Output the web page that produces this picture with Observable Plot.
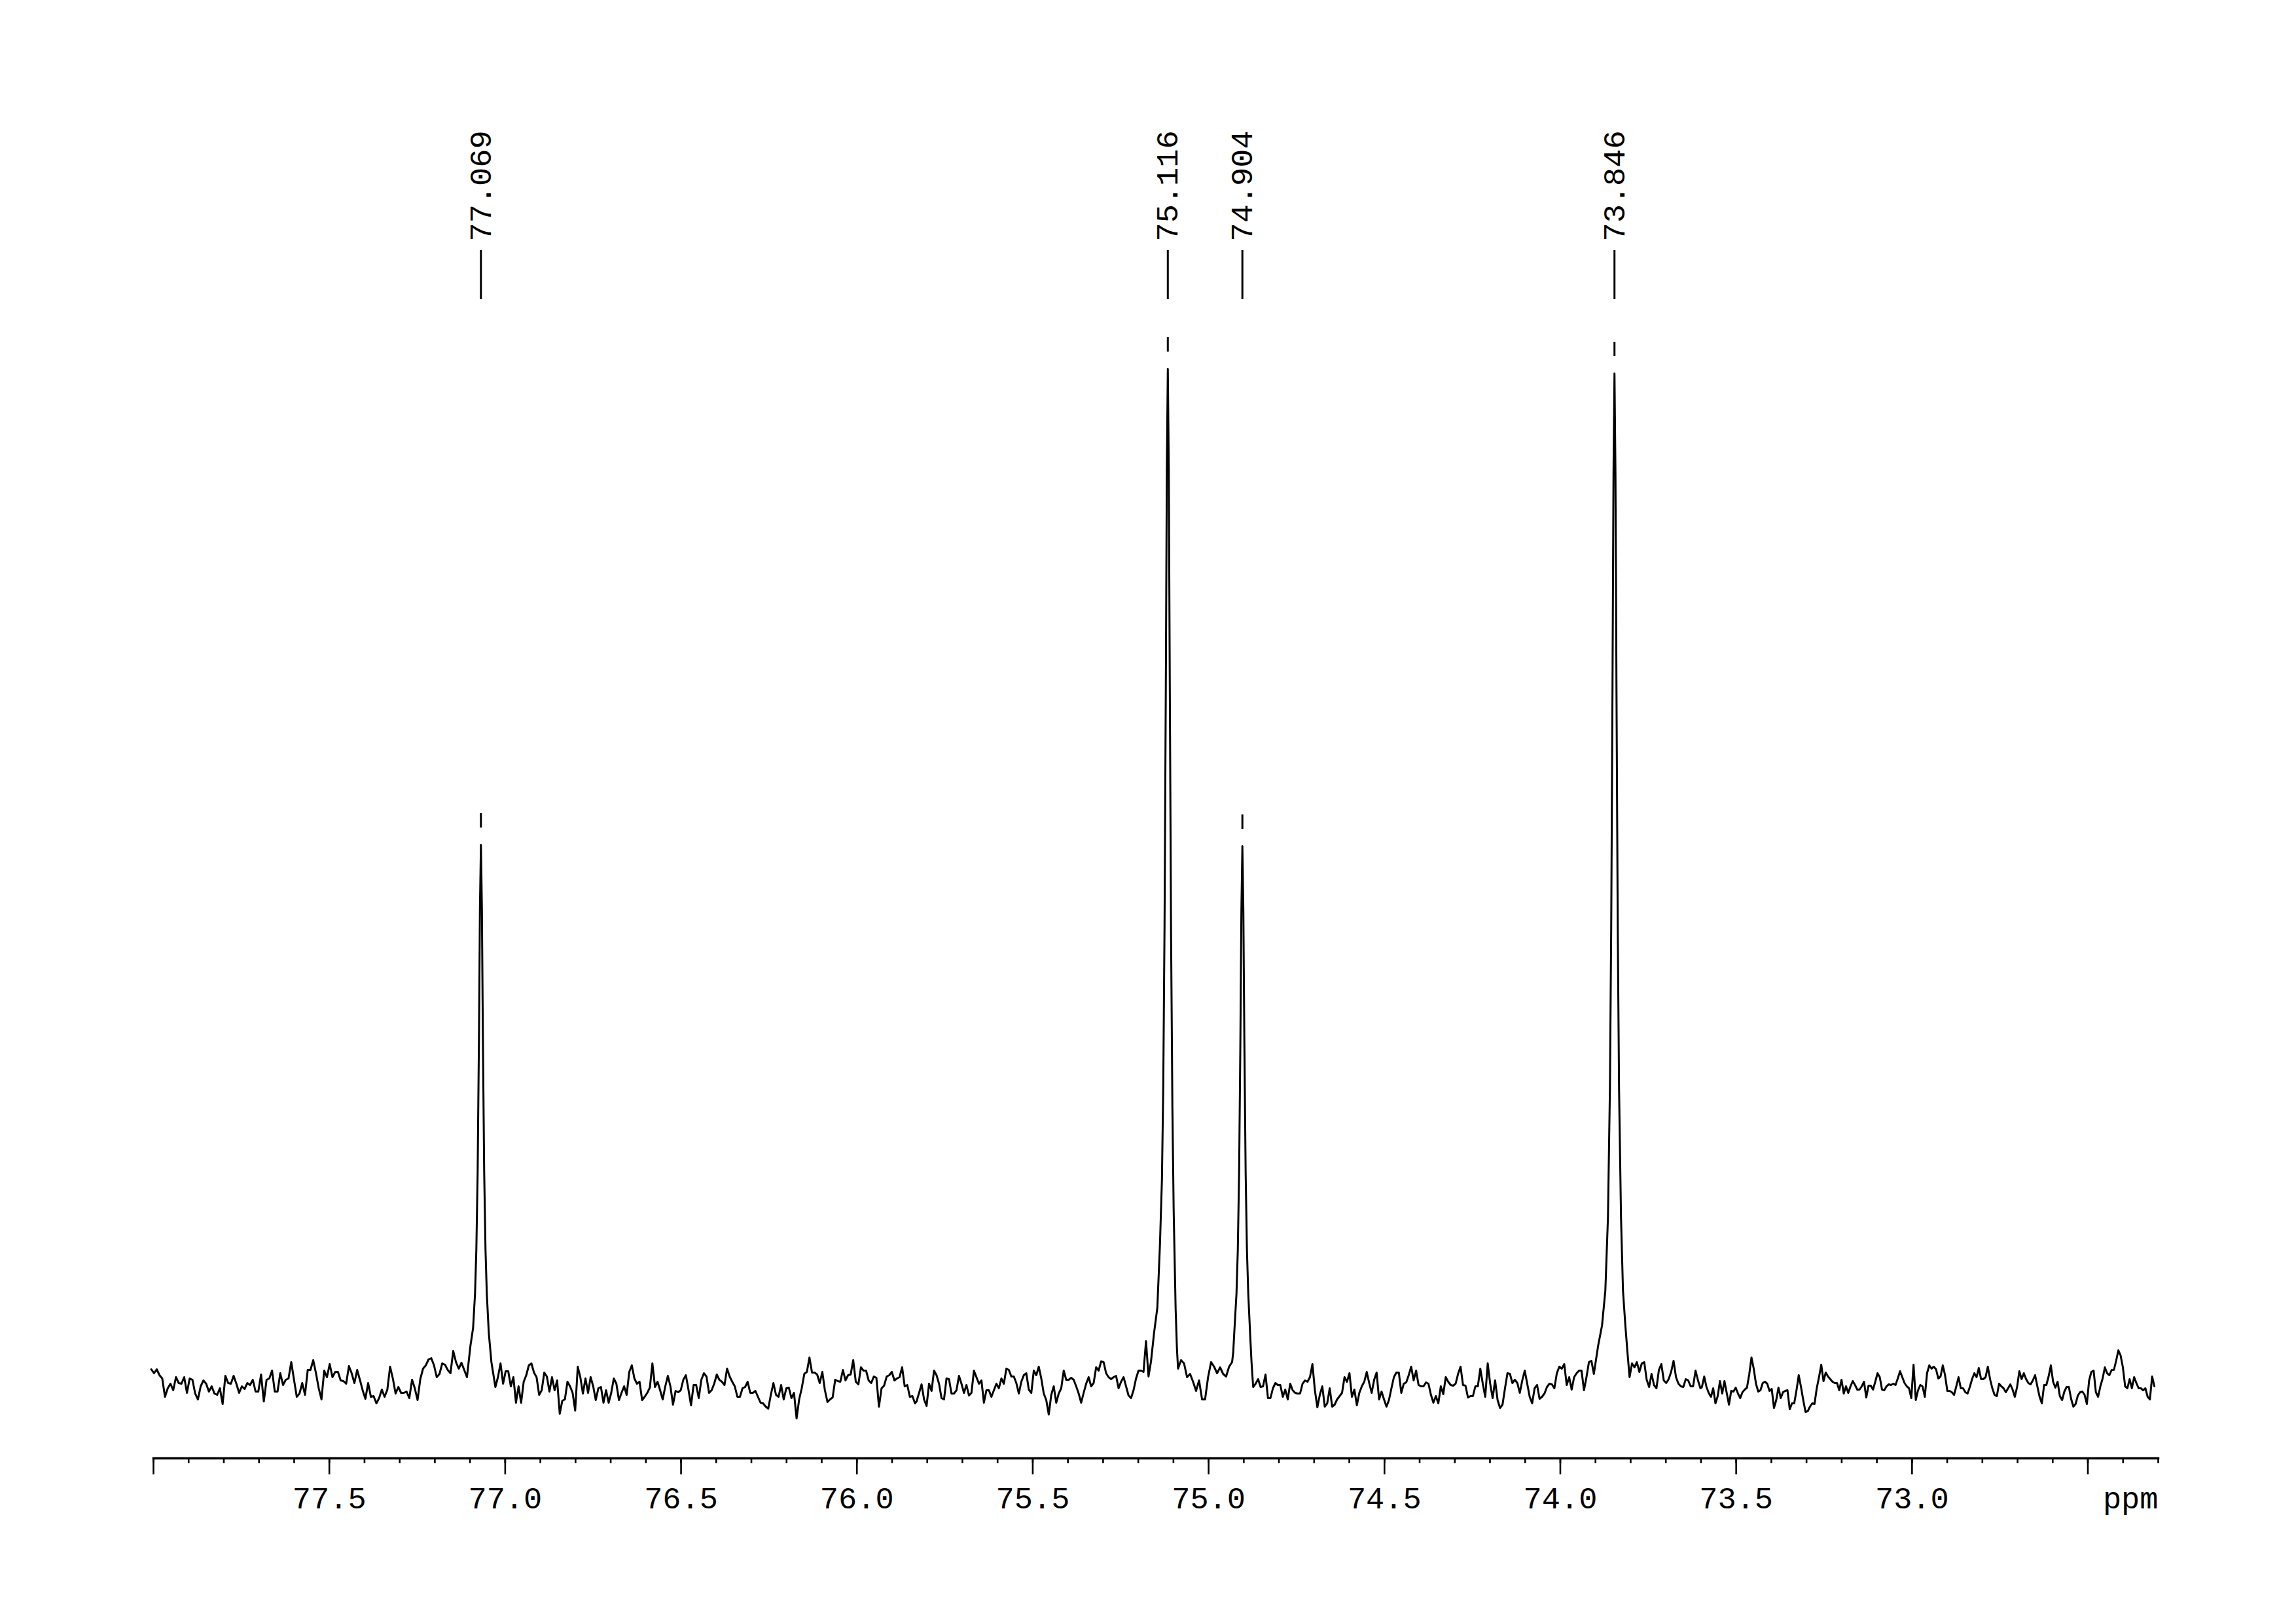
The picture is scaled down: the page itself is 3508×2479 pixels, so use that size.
<!DOCTYPE html>
<html><head><meta charset="utf-8">
<script src="https://cdn.jsdelivr.net/npm/d3@7"></script>
<script src="https://cdn.jsdelivr.net/npm/@observablehq/plot@0.6"></script>
<style>html,body{margin:0;padding:0;background:#fff;} #chart svg{display:block;}</style>
</head><body><div id="chart"></div>
<script>
// ---- peaks (picked) ----
const peakPpm = [77.069, 75.116, 74.904, 73.846];
const peakLabels = ["77.069", "75.116", "74.904", "73.846"];
const peakHeights = [820, 1547, 818, 1540];

// ---- axis ----
const majorTicks = [78.0, 77.5, 77.0, 76.5, 76.0, 75.5, 75.0, 74.5, 74.0, 73.5, 73.0, 72.5];
const majorTickLabels = ["", "77.5", "77.0", "76.5", "76.0", "75.5", "75.0", "74.5", "74.0", "73.5", "73.0", ""];
const axisUnit = "ppm";
const ppmDomain = [78.0, 72.3];

// ---- spectrum: baseline segments (evenly sampled between from/to ppm) ----
const segA = {from: 78.0063, to: 77.1087, values: [
19,13,19,10,5,-23,-10,-3,-13,7,
-2,-3,7,-17,5,3,-18,-27,-7,2,
-3,-15,-7,-18,-20,-10,-34,9,-2,-3,
9,-3,-17,-7,-11,-2,-5,3,-15,-15,
11,-30,3,5,17,-15,-15,13,-5,3,
5,30,3,-23,-18,-2,-20,18,18,33,
13,-10,-27,17,7,27,7,15,15,2,
1,-3,24,13,-2,18,3,-13,-26,-2,
-23,-22,-33,-25,-12,-23,-12,23,5,-18,
-8,-17,-17,-15,-25,3,-10,-28,4,20,
25,34,36,25,7,12,28,26,18,13,
47,30,20,29,18,7]};

const segB1 = {from: 77.0279, to: 75.8348, values: [
-8,7,28,-3,16,16,-7,7,-32,-7,
-32,0,10,25,28,14,7,-20,-13,14,
8,-15,7,-13,2,-49,-29,-27,0,-7,
-17,-44,23,7,-18,5,-17,7,-7,-28,
-10,-8,-32,-13,-32,-17,5,-3,-28,-17,
-7,-20,15,25,5,-3,0,-28,-23,-17,
-9,28,-8,0,-13,-27,-7,9,-7,-35,
-14,-16,-13,3,10,-12,-36,-5,-5,-25,
3,13,8,-17,-13,-3,11,3,0,-5,
20,8,0,-7,-23,-23,-10,-8,0,-17,
-17,-14,-23,-32,-33,-38,-41,-20,-2,-20,
-23,-5,-27,-10,-9,-25,-17,-56,-27,-10,
12,15,37,14,14,11,-2,15,-13,-31,
-27,-24,3,1,0,18,2,10,11,33,
0,-4,22,17,17,2,-2,8,6,-38,
-10,-6,8,10,15,2,5,7,22,-7,
-5,-23,-22,-33]};

const segB2 = {from: 75.8303, to: 75.1638, values: [
-30,-17,-4,-27,-37,-3,-14,17,10,-3,
-25,-27,5,4,-18,-18,-13,9,-3,-17,
-5,-21,-17,17,7,-3,2,-32,-13,-13,
-23,-13,-3,-10,5,-3,20,18,8,8,
-2,-18,0,10,13,-12,-17,17,10,23,
5,-18,-28,-50,-20,-7,-32,-18,-10,17,
3,3,6,3,-7,-18,-32,-17,-3,7,
-7,-2,22,17,31,30,13,7,4,7,
9,-10,0,7,-7,-21,-25,-13,5,17,
17,15,62,8,31]};

const segC = {from: 75.0869, to: 74.9332, values: [
20,33,28,7,12,0,-14,2,-27,-27,7,30,23,13,22,12,8,23,30]};

const segD = {from: 74.8733, to: 73.9046, values: [
-8,-3,4,-8,-7,11,-25,-25,-10,-2,
-5,-5,-23,-12,-27,-3,-13,-17,-18,-18,
-3,2,0,7,27,-13,-39,-20,-7,-38,
-33,-10,-38,-35,-27,-22,-17,7,0,13,
-23,-12,-36,-17,-7,0,15,-2,-17,3,
14,-27,-15,-27,-38,-28,-10,7,14,14,
-17,-3,-1,10,23,2,17,-5,-7,-7,
-1,-3,-20,-32,-22,-33,-7,-19,7,0,
-5,-6,-3,12,23,-5,-6,-24,-22,-22,
-7,-7,20,-3,-23,28,-3,-25,2,-28,
-40,-35,-10,13,12,-2,3,-2,-17,2,
17,-3,-23,-33,-10,-5,-26,-23,-18,-8,
-3,-4,-10,13,23,20,27,-5,7,-12,
7,13,17,17,-13,7,30,32,12]};

const segE1 = {from: 73.8031, to: 73.6016, values: [
7,28,22,30,15,28,30,3,-8,12,
-5,-10,18,27,2,-2,4,15,32,7,
-3,-7,-8,4,2,-7,-7,17,2,-10]};

const segE2 = {from: 73.5973, to: 72.3109, values: [
-8,8,-8,-17,-23,-10,-33,-22,1,-18,
1,-17,-35,-14,-15,-9,-18,-25,-16,-12,
-9,11,37,20,-3,-15,-13,-2,0,-3,
-14,-11,-40,-28,-9,-25,-16,-14,-13,-42,
-33,-33,-13,10,-8,-28,-46,-45,-38,-33,
-34,-10,7,26,1,14,8,4,0,-2,
-2,-13,3,-18,-7,-17,-7,1,-5,-12,
-12,-7,0,-24,-6,-6,-12,0,13,7,
-12,-13,-7,-4,-5,-3,-5,5,16,7,
-2,-7,-10,-25,26,-28,-13,-5,-7,-23,
13,25,20,23,19,5,8,25,10,-14,
-14,-16,-20,-7,7,-10,-10,-16,-18,-8,
4,13,7,21,4,4,7,23,4,-10,
-20,-22,-3,-7,-10,-16,-10,-4,-12,-23,
-8,16,4,13,4,-2,-4,2,10,-7,
-23,-33,-5,-5,8,25,0,-9,0,-22,
-28,-15,-8,-8,-26,-38,-34,-21,-16,-15,
-20,-34,2,15,17,-16,-23,-7,5,22,
13,10,18,18,32,48,40,22,-7,-10,
4,-10,7,-2,-10,-10,-13,-10,-23,-27,
8,-7]};

// ---- spectrum: peak profiles [ppm, intensity] ----
const peak1Profile = [[77.0988,55],[77.0913,82],[77.0857,135],[77.082,202],[77.0783,320],[77.0746,525],[77.0718,722],[77.069,820],[77.0662,722],[77.0634,525],[77.0597,320],[77.056,202],[77.0523,135],[77.0467,75],[77.0392,30]];
const peak2Profile = [[75.155,75],[75.1458,113],[75.1383,210],[75.1327,309],[75.129,449],[75.1253,696],[75.1216,1067],[75.1188,1392],[75.116,1547],[75.1132,1392],[75.1104,1067],[75.1067,680],[75.103,420],[75.0993,260],[75.0937,110],[75.09,50]];
const peak3Profile = [[74.930,45],[74.9263,82],[74.9207,135],[74.917,201],[74.9133,319],[74.9096,523],[74.9068,720],[74.904,818],[74.9012,720],[74.8984,523],[74.8947,319],[74.891,201],[74.8873,135],[74.8817,70],[74.878,30]];
const peak4Profile = [[73.8925,55],[73.8814,86],[73.872,139],[73.8646,250],[73.859,447],[73.8553,693],[73.8516,1066],[73.8488,1386],[73.846,1540],[73.8432,1386],[73.8404,1066],[73.8367,693],[73.833,447],[73.8274,250],[73.8218,139],[73.8151,86],[73.8088,43]];

// ---- build ----
const segPoints = s => s.values.map((v, i) => ({ppm: s.from + (s.to - s.from) * i / (s.values.length - 1), v}));
const profPoints = p => p.map(([ppm, v]) => ({ppm, v}));
const spectrum = [
  ...segPoints(segA), ...profPoints(peak1Profile),
  ...segPoints(segB1), ...segPoints(segB2), ...profPoints(peak2Profile),
  ...segPoints(segC), ...profPoints(peak3Profile),
  ...segPoints(segD), ...profPoints(peak4Profile),
  ...segPoints(segE1), ...segPoints(segE2)
].sort((a, b) => b.ppm - a.ppm);

const peaks = peakPpm.map((ppm, i) => ({ppm, label: peakLabels[i], h: peakHeights[i]}));
const labelOf = new Map(majorTicks.map((t, i) => [t, majorTickLabels[i]]));
const minorTicks = d3.range(0, 58).map(i => +(78.0 - i * 0.1).toFixed(1));

const FONT = "'Liberation Mono', 'DejaVu Sans Mono', monospace";
const FS = 47;

const chart = Plot.plot({
  width: 3508, height: 2479,
  marginLeft: 234, marginRight: 211, marginTop: 0, marginBottom: 252,
  x: {domain: ppmDomain, label: null},
  y: {domain: [-117, 2110], axis: null},
  style: {background: "#ffffff", color: "#000000", fontFamily: FONT, fontSize: FS + "px"},
  marks: [
    Plot.line(spectrum, {x: "ppm", y: "v", stroke: "#000", strokeWidth: 3}),
    Plot.frame({anchor: "bottom", stroke: "#000", strokeWidth: 3.5}),
    Plot.axisX(minorTicks, {tickSize: 8, tickFormat: () => "", strokeWidth: 2.6, label: null}),
    Plot.axisX(majorTicks, {tickSize: 25, tickPadding: 18, tickFormat: d => labelOf.get(d), strokeWidth: 2.6, fontSize: FS, fontFamily: FONT, label: null}),
    Plot.text([axisUnit], {frameAnchor: "bottom-right", textAnchor: "end", lineAnchor: "top", dy: 43, fontSize: FS, fontFamily: FONT, fill: "#000"}),
    Plot.ruleX(peaks, {x: "ppm", insetTop: 382, insetBottom: 1770, stroke: "#000", strokeWidth: 3}),
    Plot.ruleX(peaks, {x: "ppm", y1: d => d.h + 26, y2: d => d.h + 48, stroke: "#000", strokeWidth: 3}),
    Plot.text(peaks, {x: "ppm", text: "label", frameAnchor: "top", dy: 368, rotate: -90, textAnchor: "start", lineAnchor: "middle", fontSize: FS, fontFamily: FONT, fill: "#000"})
  ]
});
document.getElementById("chart").appendChild(chart);
</script>
</body></html>
